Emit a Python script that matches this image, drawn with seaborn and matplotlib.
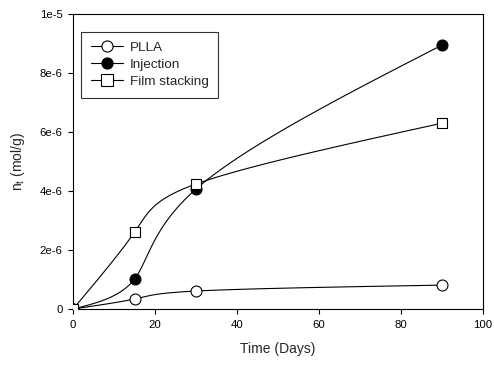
import numpy as np
import pandas as pd
import matplotlib
matplotlib.use("Agg")
import matplotlib.pyplot as plt
from matplotlib.lines import Line2D
import seaborn as sns

days = [0, 15, 30, 90]
plla = [0.0, 3.4e-7, 6.1e-7, 8.1e-7]
injection = [0.0, 1.02e-6, 4.07e-6, 8.95e-6]
film_stacking = [0.0, 2.61e-6, 4.24e-6, 6.3e-6]
series_names = ["PLLA", "Injection", "Film stacking"]
x_ticks = [0, 20, 40, 60, 80, 100]
y_ticks = [0, 2e-6, 4e-6, 6e-6, 8e-6, 1e-5]
y_tick_labels = ["0", "2e-6", "4e-6", "6e-6", "8e-6", "1e-5"]

sns.set_style("ticks")
plt.rcParams['font.family'] = ['Liberation Sans', 'DejaVu Sans']


def nat_coeffs(t, y):
    k = len(t)
    h = np.diff(t)
    A = np.zeros((k, k)); b = np.zeros(k)
    A[0, 0] = 1; A[-1, -1] = 1
    for i in range(1, k - 1):
        A[i, i - 1] = h[i - 1]; A[i, i] = 2 * (h[i - 1] + h[i]); A[i, i + 1] = h[i]
        b[i] = 3 * ((y[i + 1] - y[i]) / h[i] - (y[i] - y[i - 1]) / h[i - 1])
    return np.linalg.solve(A, b)


def eval_spline(t, y, c, tv):
    h = np.diff(t)
    i = min(max(np.searchsorted(t, tv, side='right') - 1, 0), len(t) - 2)
    bi = (y[i + 1] - y[i]) / h[i] - h[i] * (2 * c[i] + c[i + 1]) / 3
    di = (c[i + 1] - c[i]) / (3 * h[i])
    s = tv - t[i]
    return y[i] + bi * s + c[i] * s ** 2 + di * s ** 3


def parametric_spline(x, y, sx, sy, alpha=0.1, n=400):
    x = np.asarray(x, float); y = np.asarray(y, float)
    px, py = x * sx, y * sy
    d = np.hypot(np.diff(px), np.diff(py)) ** alpha
    t = np.concatenate([[0], np.cumsum(d)])
    cx = nat_coeffs(t, px); cy = nat_coeffs(t, py)
    ts = np.linspace(0, t[-1], n)
    xs = np.array([eval_spline(t, px, cx, v) for v in ts]) / sx
    ys = np.array([eval_spline(t, py, cy, v) for v in ts]) / sy
    return xs, ys


fig = plt.figure(figsize=(4.94, 3.65), dpi=100)
ax = fig.add_axes([0.148, 0.1534, 0.830, 0.8082])

styles = {"PLLA": ("o", "white"), "Injection": ("o", "black"), "Film stacking": ("s", "white")}
data = {"PLLA": plla, "Injection": injection, "Film stacking": film_stacking}

for name in series_names:
    xs, ys = parametric_spline(days, data[name], 410 / 100, 295 / 1e-5)
    ax.plot(xs, ys, color="black", lw=0.8, zorder=2)

rows = []
for name in series_names:
    for d, v in zip(days, data[name]):
        rows.append({"day": d, "val": v, "series": name})
df = pd.DataFrame(rows)
for name in series_names:
    m, fc = styles[name]
    sub = df[df.series == name]
    sns.scatterplot(data=sub, x="day", y="val", marker=m, s=62,
                    color=fc, edgecolor="black", linewidth=0.8, ax=ax, zorder=3, legend=False)

ax.set_xlim(0, 100)
ax.set_ylim(0, 1e-5)
ax.set_xticks(x_ticks)
ax.set_xticklabels([str(t) for t in x_ticks])
ax.set_yticks(y_ticks)
ax.set_yticklabels(y_tick_labels)
ax.tick_params(direction="out", length=3.6, width=0.8, labelsize=8.2, colors="black", pad=4)
for s in ax.spines.values():
    s.set_linewidth(0.8)
    s.set_color("black")
ax.set_xlabel("Time (Days)", fontsize=10, labelpad=9)
ax.set_ylabel(r"n$_\mathregular{t}$ (mol/g)", fontsize=10, labelpad=9)

handles = []
for name in series_names:
    m, fc = styles[name]
    handles.append(Line2D([0], [0], color="black", lw=0.8, marker=m, markersize=8,
                          markerfacecolor=fc, markeredgecolor="black", markeredgewidth=0.8))
leg = ax.legend(handles, series_names, loc="upper left", bbox_to_anchor=(0.02, 0.939),
                fontsize=9.7, frameon=True, fancybox=False, borderaxespad=0,
                handlelength=2.4, handletextpad=0.5, labelspacing=0.35, borderpad=0.7)
leg.get_frame().set_edgecolor("black")
leg.get_frame().set_linewidth(0.8)

fig.savefig("out.png", dpi=100)
